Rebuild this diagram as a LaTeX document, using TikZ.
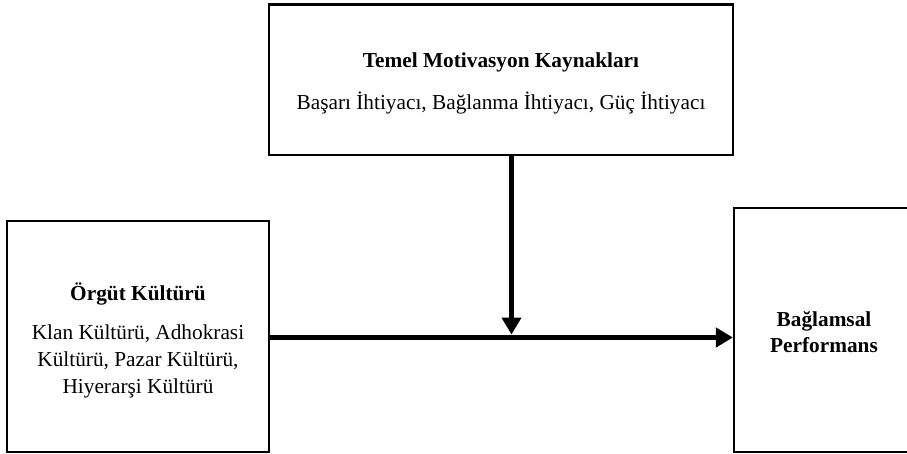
\documentclass[tikz,border=0pt]{standalone}
\usepackage{fontspec}
\setmainfont{Liberation Serif}
\usetikzlibrary{arrows.meta}
\tikzset{
  box/.style={draw=black, line width=2.2pt, fill=none},
  txt/.style={anchor=base, inner sep=0pt, font=\fontsize{21.3}{26.5}\selectfont},
  btxt/.style={txt, font=\fontsize{21.3}{26.5}\selectfont\bfseries},
  conn/.style={line width=5.5pt, -{Triangle[length=17pt,width=19pt]}},
}
\begin{document}
\begin{tikzpicture}[x=1pt,y=-1pt]
\clip (0,0) rectangle (907,454);
\fill[white] (0,0) rectangle (907,454);
% boxes
\node[box, inner sep=0pt, minimum width=464pt, minimum height=150.5pt] (top) at (501,79.75) {};
\node[box, inner sep=0pt, minimum width=262pt, minimum height=231pt] (left) at (138,336.5) {};
\node[box, inner sep=0pt, minimum width=190pt, minimum height=244pt] (right) at (829,330) {};
% texts
\node[btxt] (t1) at (501,68) {Temel Motivasyon Kaynakları};
\node[txt] (t2) at (501,110) {Başarı İhtiyacı, Bağlanma İhtiyacı, Güç İhtiyacı};
\node[btxt] (l1) at (138,300) {Örgüt Kültürü};
\node[txt] (l2) at (138,339.5) {Klan Kültürü, Adhokrasi};
\node[txt] (l3) at (138,366.5) {Kültürü, Pazar Kültürü,};
\node[txt] (l4) at (138,393) {Hiyerarşi Kültürü};
\node[btxt] (r1) at (824,326) {Bağlamsal};
\node[btxt] (r2) at (824,352) {Performans};
% connectors
\coordinate (meet) at (511.5,337.5);
\coordinate (vtip) at (511.5,334.5);
\draw[conn] (left.east |- meet) -- (right.west |- meet);
\draw[conn] (top.south -| vtip) -- (vtip);
\end{tikzpicture}
\end{document}
